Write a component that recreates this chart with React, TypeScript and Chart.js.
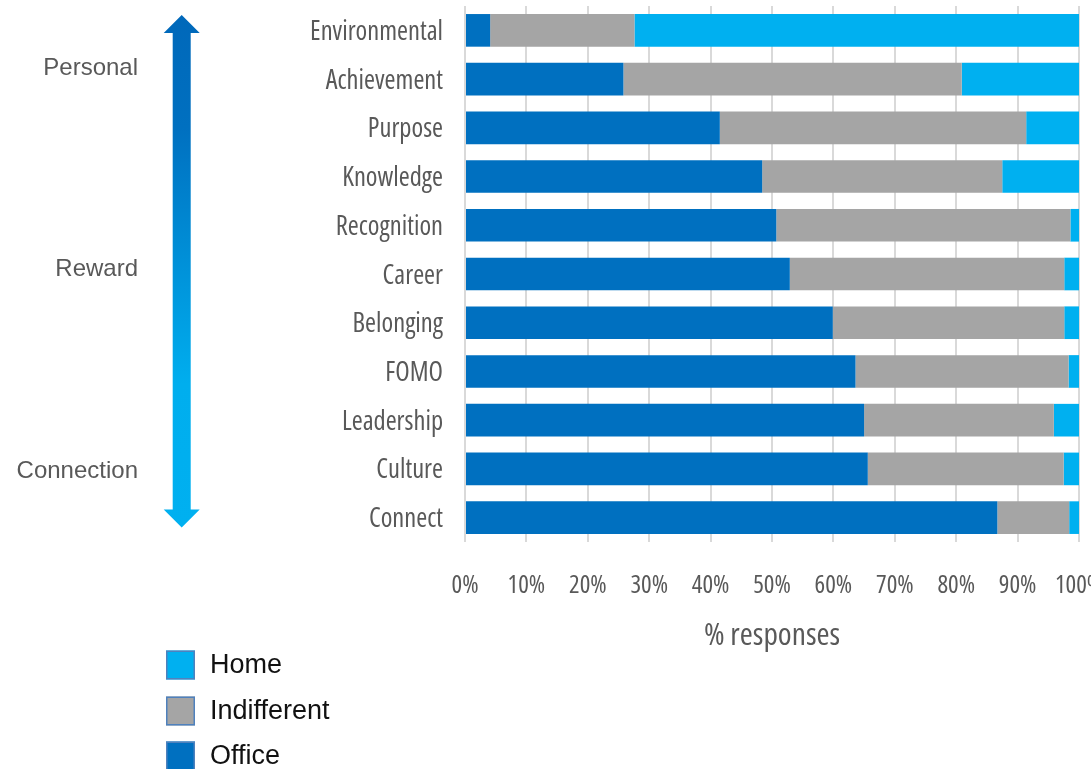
import React, { useEffect, useRef } from "react";
import { Chart, registerables } from "chart.js";

Chart.register(...registerables);

const categories = [
  "Environmental",
  "Achievement",
  "Purpose",
  "Knowledge",
  "Recognition",
  "Career",
  "Belonging",
  "FOMO",
  "Leadership",
  "Culture",
  "Connect",
];
const officeValues = [4.1, 25.8, 41.5, 48.4, 50.7, 52.9, 59.9, 63.6, 65.0, 65.6, 86.7];
const indifferentValues = [23.5, 55.1, 49.9, 39.1, 47.9, 44.7, 37.7, 34.7, 30.9, 31.9, 11.7];
const homeValues = [72.4, 19.1, 8.6, 12.5, 1.4, 2.4, 2.4, 1.7, 4.1, 2.5, 1.6];

const seriesNames = ["Office", "Indifferent", "Home"];
const seriesColors = ["#0070C0", "#A5A5A5", "#00B0F0"];
const sideLabels = ["Personal", "Reward", "Connection"];
const axisTitle = "% responses";

const NARROW = "'Open Sans', 'DejaVu Sans Condensed', sans-serif";
const ARIAL = "'Liberation Sans', Arial, sans-serif";

const CANVAS_W = 1130;
const CANVAS_H = 769;
const PLOT_LEFT = 465;
const PLOT_RIGHT = 1079;
const PLOT_TOP = 6;
const PLOT_BOTTOM = 542;

const decorPlugin = {
  id: "decor",
  afterDraw(chart: any) {
    const ctx = chart.ctx as CanvasRenderingContext2D;
    ctx.save();

    // double-headed gradient arrow
    const cx = 181.7;
    const top = 15;
    const bottom = 527.5;
    const headH = 18;
    const headW = 36;
    const shaftW = 18;
    const g = ctx.createLinearGradient(0, top, 0, bottom);
    g.addColorStop(0, "#0068BA");
    g.addColorStop(0.22, "#0070C0");
    g.addColorStop(0.72, "#00AEEE");
    g.addColorStop(1, "#00B0F0");
    ctx.fillStyle = g;
    ctx.beginPath();
    ctx.moveTo(cx, top);
    ctx.lineTo(cx + headW / 2, top + headH);
    ctx.lineTo(cx + shaftW / 2, top + headH);
    ctx.lineTo(cx + shaftW / 2, bottom - headH);
    ctx.lineTo(cx + headW / 2, bottom - headH);
    ctx.lineTo(cx, bottom);
    ctx.lineTo(cx - headW / 2, bottom - headH);
    ctx.lineTo(cx - shaftW / 2, bottom - headH);
    ctx.lineTo(cx - shaftW / 2, top + headH);
    ctx.lineTo(cx - headW / 2, top + headH);
    ctx.closePath();
    ctx.fill();

    // side labels
    const sideY = [68, 269, 471];
    ctx.font = `24px ${ARIAL}`;
    ctx.fillStyle = "#595959";
    ctx.textAlign = "right";
    ctx.textBaseline = "middle";
    sideLabels.forEach((t, i) => ctx.fillText(t, 138, sideY[i]));

    // legend (Home, Indifferent, Office)
    const ds = chart.data.datasets.slice().reverse();
    const legendY = [665, 711, 756];
    ctx.font = `27px ${ARIAL}`;
    ctx.textAlign = "left";
    ds.forEach((d: any, i: number) => {
      const y = legendY[i];
      ctx.fillStyle = d.backgroundColor;
      ctx.fillRect(166, y - 14.5, 29, 29);
      ctx.strokeStyle = "#4F81BD";
      ctx.lineWidth = 1.5;
      ctx.strokeRect(166.75, y - 13.75, 27.5, 27.5);
      ctx.fillStyle = "#111111";
      ctx.fillText(d.label, 210, y + 1);
    });

    ctx.restore();
  },
};

export default function App() {
  const ref = useRef<HTMLCanvasElement | null>(null);

  useEffect(() => {
    if (!ref.current) return;
    const values = [officeValues, indifferentValues, homeValues];
    const chart = new Chart(ref.current, {
      type: "bar",
      data: {
        labels: categories,
        datasets: seriesNames.map((name, i) => ({
          label: name,
          data: values[i],
          backgroundColor: seriesColors[i],
          borderWidth: 0,
          barPercentage: 0.67,
          categoryPercentage: 1,
        })),
      },
      options: {
        indexAxis: "y",
        animation: false,
        responsive: false,
        layout: {
          padding: {
            top: PLOT_TOP,
            left: 0,
            bottom: 0,
            right: CANVAS_W - PLOT_RIGHT,
          },
        },
        plugins: {
          legend: { display: false },
          tooltip: { enabled: false },
        },
        scales: {
          x: {
            stacked: true,
            min: 0,
            max: 100,
            border: { display: false },
            grid: {
              color: "#D9D9D9",
              lineWidth: 2,
              drawTicks: false,
              tickLength: 0,
            },
            ticks: {
              stepSize: 10,
              padding: 28.5,
              color: "#595959",
              font: { family: NARROW, size: 25, weight: "condensed" as any },
              maxRotation: 0,
              autoSkip: false,
              callback: (v: any) => `${v}%`,
            },
            title: {
              display: true,
              text: axisTitle,
              color: "#595959",
              font: { family: NARROW, size: 31.5, weight: "condensed" as any },
              padding: { top: 0, bottom: 114 },
            },
            afterFit: (scale: any) => {
              scale.height = CANVAS_H - PLOT_BOTTOM;
              scale.paddingLeft = 0;
              scale.paddingRight = 0;
            },
          },
          y: {
            stacked: true,
            border: { display: false },
            grid: { display: false, drawTicks: false },
            ticks: {
              padding: 22,
              labelOffset: 2,
              color: "#595959",
              font: { family: NARROW, size: 26.5, weight: "condensed" as any },
              autoSkip: false,
            },
            afterFit: (scale: any) => {
              scale.width = PLOT_LEFT;
              scale.paddingTop = 0;
              scale.paddingBottom = 0;
            },
          },
        },
      },
      plugins: [decorPlugin],
    });
    return () => chart.destroy();
  }, []);

  return (
    <div
      style={{
        position: "fixed",
        left: 0,
        top: 0,
        width: 1091,
        height: 769,
        overflow: "hidden",
        background: "#ffffff",
      }}
    >
      <canvas ref={ref} width={CANVAS_W} height={CANVAS_H} style={{ display: "block" }} />
    </div>
  );
}
